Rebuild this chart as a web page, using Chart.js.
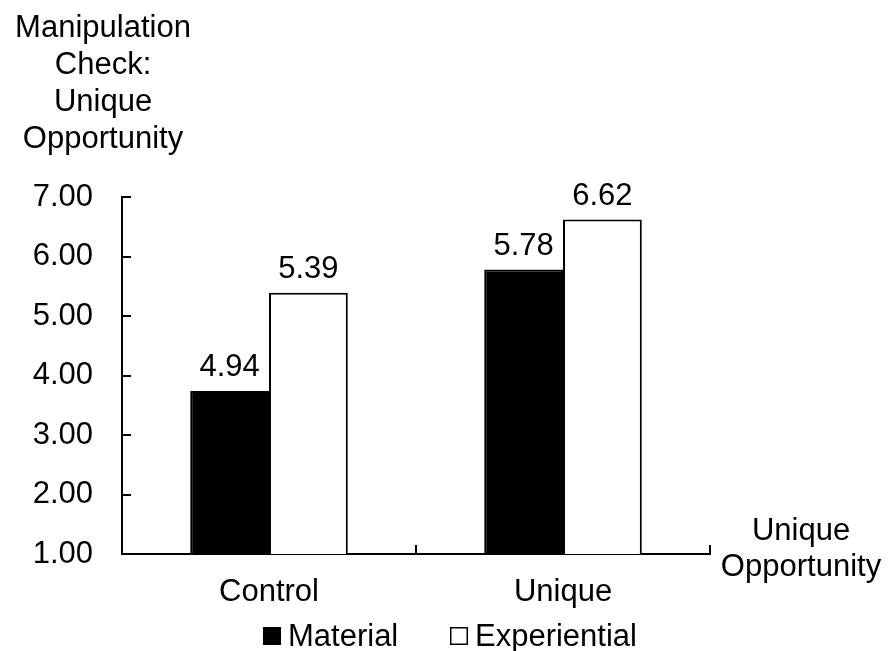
<!DOCTYPE html>
<html>
<head>
<meta charset="utf-8">
<script src="https://cdn.jsdelivr.net/npm/chart.js@4.4.1/dist/chart.umd.min.js"></script>
<style>
  html, body { margin: 0; padding: 0; background: #fff; }
  #wrap { width: 888px; height: 651px; position: relative; }
</style>
</head>
<body>
<div id="wrap"><canvas id="chart" width="888" height="651"></canvas></div>
<script>
// Manipulation check: unique opportunity, grouped bars

const categories = ['Control', 'Unique'];
const seriesNames = ['Material', 'Experiential'];
const materialValues = [3.74, 5.78];
const experientialValues = [5.39, 6.62];
// printed labels (as they appear on the chart)
const materialLabels = ['4.94', '5.78'];
const experientialLabels = ['5.39', '6.62'];
const yTitleLines = ['Manipulation', 'Check:', 'Unique', 'Opportunity'];
const xTitleLines = ['Unique', 'Opportunity'];

const FONT = '"Liberation Sans", Arial, sans-serif';
const FS = 31;

// titles, value labels, inside tick marks and legend
const decorations = {
  id: 'decorations',
  afterDraw(chart) {
    const { ctx, chartArea: ca, scales } = chart;
    ctx.save();
    ctx.fillStyle = '#000';
    ctx.strokeStyle = '#000';
    ctx.font = FS + 'px ' + FONT;
    ctx.textBaseline = 'alphabetic';

    // y title block (top left)
    ctx.textAlign = 'center';
    yTitleLines.forEach((t, i) => ctx.fillText(t, 103, 37 + i * 37));

    // x title at right end of axis
    xTitleLines.forEach((t, i) => ctx.fillText(t, 801, 540 + i * 36));

    // tick marks pointing into plot
    ctx.lineWidth = 2;
    ctx.beginPath();
    scales.y.ticks.forEach(tk => {
      const y = Math.round(scales.y.getPixelForValue(tk.value));
      ctx.moveTo(ca.left, y);
      ctx.lineTo(ca.left + 9, y);
    });
    const xs = [ca.left, (ca.left + ca.right) / 2, ca.right];
    xs.forEach(x => {
      ctx.moveTo(Math.round(x), ca.bottom);
      ctx.lineTo(Math.round(x), ca.bottom - 9);
    });
    ctx.stroke();

    // value labels
    const printed = [materialLabels, experientialLabels];
    chart.data.datasets.forEach((ds, di) => {
      chart.getDatasetMeta(di).data.forEach((bar, i) => {
        ctx.fillText(printed[di][i], bar.x, bar.y - 15);
      });
    });

    // legend
    ctx.textAlign = 'left';
    const items = [{ x: 263 }, { x: 450 }];
    chart.data.datasets.forEach((ds, di) => {
      const bx = items[di].x, by = 627;
      ctx.fillStyle = ds.backgroundColor;
      ctx.fillRect(bx, by, 18, 18);
      ctx.lineWidth = 1.5;
      ctx.strokeStyle = '#000';
      ctx.strokeRect(bx + 0.75, by + 0.75, 16.5, 16.5);
      ctx.fillStyle = '#000';
      ctx.fillText(ds.label, bx + 25, 646);
    });
    ctx.restore();
  }
};

new Chart(document.getElementById('chart'), {
  type: 'bar',
  data: {
    labels: categories,
    datasets: [
      {
        label: seriesNames[0],
        data: materialValues,
        backgroundColor: '#000000',
        borderColor: '#000000',
        borderWidth: 2
      },
      {
        label: seriesNames[1],
        data: experientialValues,
        backgroundColor: '#ffffff',
        borderColor: '#000000',
        borderWidth: 2
      }
    ]
  },
  options: {
    responsive: false,
    animation: false,
    layout: { padding: { left: 0, right: 178, top: 197, bottom: 0 } },
    datasets: { bar: { barPercentage: 1.0, categoryPercentage: 0.536 } },
    plugins: {
      legend: { display: false },
      title: { display: false },
      tooltip: { enabled: false }
    },
    scales: {
      x: {
        grid: { display: false, drawTicks: false },
        border: { display: true, color: '#000', width: 2 },
        ticks: { color: '#000', padding: 20, font: { family: FONT, size: FS } },
        afterFit(axis) { axis.height = 97; }
      },
      y: {
        min: 1,
        max: 7,
        grid: { display: false, drawTicks: false },
        border: { display: true, color: '#000', width: 2 },
        ticks: {
          stepSize: 1,
          color: '#000',
          padding: 29,
          font: { family: FONT, size: FS },
          callback: v => v.toFixed(2)
        },
        afterFit(axis) { axis.width = 122; }
      }
    }
  },
  plugins: [decorations]
});
</script>
</body>
</html>
